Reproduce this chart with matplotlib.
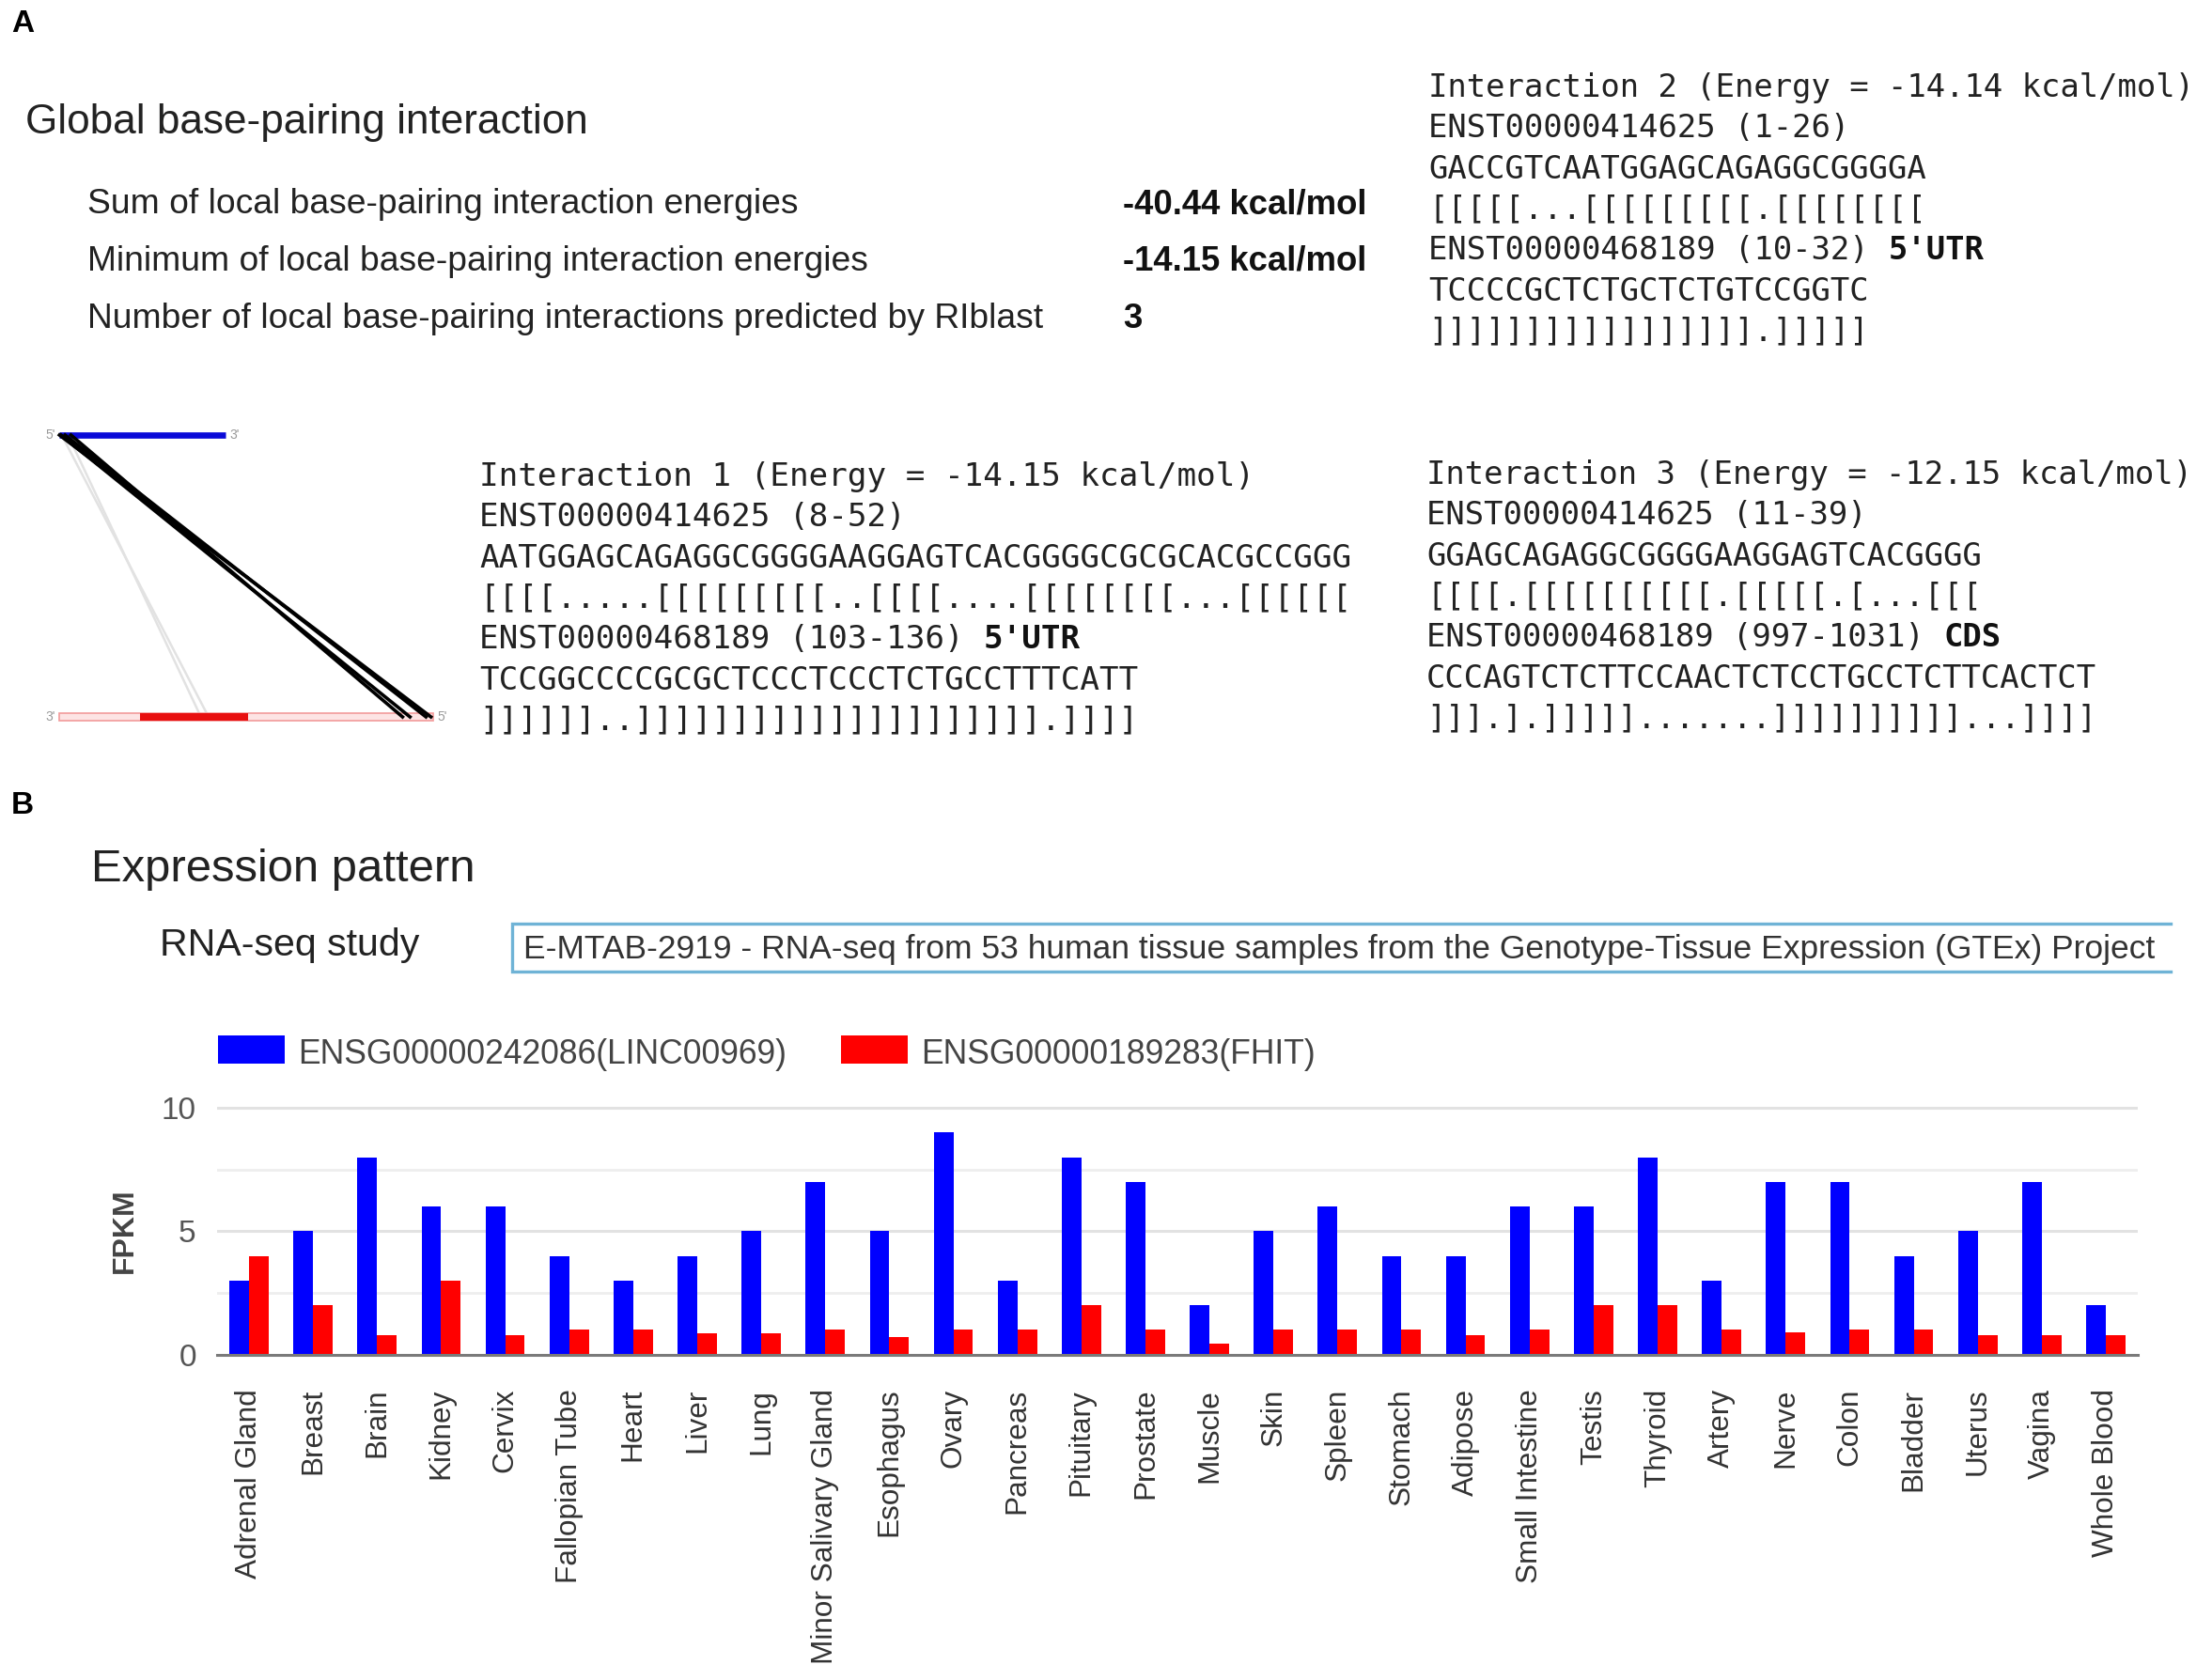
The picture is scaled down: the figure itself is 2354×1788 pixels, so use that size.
#!/usr/bin/env python3
"""Recreate the RNA-RNA interaction / expression pattern figure."""

import matplotlib
matplotlib.use("Agg")
import matplotlib.pyplot as plt
from matplotlib.patches import Rectangle

W, H, DPI = 2354, 1788, 100
SANS = "Liberation Sans"
MONO = "DejaVu Sans Mono"
MONO_ADVANCE = 1233 / 2048  # glyph advance of DejaVu Sans Mono, in em

# ---- panel A data ----
summary_labels = [
    "Sum of local base-pairing interaction energies",
    "Minimum of local base-pairing interaction energies",
    "Number of local base-pairing interactions predicted by RIblast",
]
summary_values = ["-40.44 kcal/mol", "-14.15 kcal/mol", "3"]

int_names = ["Interaction 1", "Interaction 2", "Interaction 3"]
int_energy = [-14.15, -14.14, -12.15]
query_id = "ENST00000414625"
target_id = "ENST00000468189"
query_range = [(8, 52), (1, 26), (11, 39)]
target_range = [(103, 136), (10, 32), (997, 1031)]
target_region = ["5'UTR", "5'UTR", "CDS"]
query_seq = [
    "AATGGAGCAGAGGCGGGGAAGGAGTCACGGGGCGCGCACGCCGGG",
    "GACCGTCAATGGAGCAGAGGCGGGGA",
    "GGAGCAGAGGCGGGGAAGGAGTCACGGGG",
]
query_struct = [
    "[[[[.....[[[[[[[[[..[[[[....[[[[[[[[...[[[[[[",
    "[[[[[...[[[[[[[[[.[[[[[[[[",
    "[[[[.[[[[[[[[[[.[[[[[.[...[[[",
]
target_seq = [
    "TCCGGCCCCGCGCTCCCTCCCTCTGCCTTTCATT",
    "TCCCCGCTCTGCTCTGTCCGGTC",
    "CCCAGTCTCTTCCAACTCTCCTGCCTCTTCACTCT",
]
target_struct = [
    "]]]]]]..]]]]]]]]]]]]]]]]]]]]].]]]]",
    "]]]]]]]]]]]]]]]]].]]]]]",
    "]]].].]]]]].......]]]]]]]]]]...]]]]",
]

# transcript sketch (nucleotides)
query_len = 740
target_len = 1660
target_cds = (820, 1300)

# ---- panel B data ----
tissues = ["Adrenal Gland", "Breast", "Brain", "Kidney", "Cervix", "Fallopian Tube",
           "Heart", "Liver", "Lung", "Minor Salivary Gland", "Esophagus", "Ovary",
           "Pancreas", "Pituitary", "Prostate", "Muscle", "Skin", "Spleen", "Stomach",
           "Adipose", "Small Intestine", "Testis", "Thyroid", "Artery", "Nerve", "Colon",
           "Bladder", "Uterus", "Vagina", "Whole Blood"]
linc00969 = [3, 5, 8, 6, 6, 4, 3, 4, 5, 7, 5, 9, 3, 8, 7, 2, 5, 6, 4, 4, 6, 6, 8, 3, 7, 7, 4, 5, 7, 2]
fhit = [4, 2, 0.8, 3, 0.8, 1, 1, 0.85, 0.85, 1, 0.7, 1, 1, 2, 1, 0.45, 1, 1, 1, 0.8,
        1, 2, 2, 1, 0.9, 1, 1, 0.8, 0.8, 0.8]
series_names = ["ENSG00000242086(LINC00969)", "ENSG00000189283(FHIT)"]
study_text = ("E-MTAB-2919 - RNA-seq from 53 human tissue samples from the "
              "Genotype-Tissue Expression (GTEx) Project")

BLUE = "#0000ff"
RED = "#ff0000"

fig = plt.figure(figsize=(W / DPI, H / DPI), dpi=DPI)
fig.patch.set_facecolor("white")

# overlay in pixel coordinates for the page text
ov = fig.add_axes([0, 0, 1, 1])
ov.set_xlim(0, W)
ov.set_ylim(H, 0)
ov.axis("off")


def px_axes(left, top, right, bottom):
    return fig.add_axes([left / W, 1 - bottom / H, (right - left) / W, (bottom - top) / H])


def mono_block(x, y0, lines, bold_tail, size, step=43.3):
    char_w = MONO_ADVANCE * size * DPI / 72
    for i, line in enumerate(lines):
        y = y0 + i * step
        ov.text(x, y, line, family=MONO, fontsize=size, color="#222222", va="baseline", ha="left")
        if bold_tail[i]:
            ov.text(x + (len(line) + 1) * char_w, y, bold_tail[i], family=MONO, fontsize=size,
                    fontweight="bold", color="#111111", va="baseline", ha="left")


# ---- panel A ----
ov.text(12, 25, "A", family=SANS, fontsize=24, fontweight="bold", va="center", ha="left")
ov.text(27, 142, "Global base-pairing interaction", family=SANS, fontsize=31.8,
        color="#222222", va="baseline")
for i, (lab, val) in enumerate(zip(summary_labels, summary_values)):
    y = 227 + i * 61
    ov.text(93, y, lab, family=SANS, fontsize=26.8, color="#222222", va="baseline")
    ov.text(1195, y, val, family=SANS, fontsize=26.3, fontweight="bold", color="#111111", va="baseline")

block_pos = [(510, 517), (1520, 103), (1518, 515)]
block_size = [24.7, 24.4, 24.4]
for k in range(3):
    lines = [
        f"{int_names[k]} (Energy = {int_energy[k]:.2f} kcal/mol)",
        f"{query_id} ({query_range[k][0]}-{query_range[k][1]})",
        query_seq[k],
        query_struct[k],
        f"{target_id} ({target_range[k][0]}-{target_range[k][1]})",
        target_seq[k],
        target_struct[k],
    ]
    tails = ["", "", "", "", target_region[k], "", ""]
    mono_block(block_pos[k][0], block_pos[k][1], lines, tails, block_size[k])

# interaction sketch
dg = px_axes(63, 463, 461, 763)
dg.set_xlim(0, target_len)
dg.set_ylim(0, 1)
dg.axis("off")
dg.plot([0, query_len], [1, 1], color="#0a0ad8", lw=4.8, solid_capstyle="butt", clip_on=False, zorder=3)
dg.add_patch(Rectangle((0, -0.012), target_len, 0.024, facecolor="#fde4e4", edgecolor="#f29a9a",
                       lw=1.2, clip_on=False, zorder=2))
dg.add_patch(Rectangle((target_len - target_cds[1], -0.012), target_cds[1] - target_cds[0], 0.024,
                       facecolor="#e81010", edgecolor="none", clip_on=False, zorder=2))
for k in range(3):
    col = "#000000" if int_energy[k] < -13 else "#e2e2e2"
    lw = 2.6 if int_energy[k] < -13 else 1.8
    for qp, tp in zip(query_range[k], target_range[k]):
        dg.plot([qp, target_len - tp], [1, 0], color=col, lw=lw, clip_on=False,
                zorder=4 if col == "#000000" else 1)
end_kw = dict(family=SANS, fontsize=10, color="#999999", va="center")
dg.annotate("5'", (0, 1), xytext=(-3, 0), textcoords="offset points", ha="right", **end_kw)
dg.annotate("3'", (query_len, 1), xytext=(3, 0), textcoords="offset points", ha="left", **end_kw)
dg.annotate("3'", (0, 0), xytext=(-3, 0), textcoords="offset points", ha="right", **end_kw)
dg.annotate("5'", (target_len, 0), xytext=(3, 0), textcoords="offset points", ha="left", **end_kw)

# ---- panel B ----
ov.text(12, 858, "B", family=SANS, fontsize=24, fontweight="bold", va="center", ha="left")
ov.text(97, 938, "Expression pattern", family=SANS, fontsize=35.3, color="#222222", va="baseline")
ov.text(170, 1017, "RNA-seq study", family=SANS, fontsize=29.6, color="#222222", va="baseline")
box_col = "#6fb3d6"
ov.plot([2310, 545, 545, 2310], [983, 983, 1034, 1034], color=box_col, lw=2.4, solid_joinstyle="miter")
ov.text(557, 1020, study_text, family=SANS, fontsize=25.5, color="#333333", va="baseline")

# legend swatches
ov.add_patch(Rectangle((232, 1102), 71, 30, facecolor=BLUE, edgecolor="none"))
ov.text(317, 1132, series_names[0], family=SANS, fontsize=25.6, color="#444444", va="baseline")
ov.add_patch(Rectangle((895, 1102), 71, 30, facecolor=RED, edgecolor="none"))
ov.text(980, 1132, series_names[1], family=SANS, fontsize=25.6, color="#444444", va="baseline")

# bar chart
ymax = 10.1
ax = px_axes(231, 1441.7 - 26.27 * ymax, 2275, 1441.7)
x = list(range(len(tissues)))
bw = 0.306
ax.bar([i - bw / 2 for i in x], linc00969, width=bw, color=BLUE, zorder=2)
ax.bar([i + bw / 2 for i in x], fhit, width=bw, color=RED, zorder=2)
ax.set_xlim(-0.5, len(tissues) - 0.5)
ax.set_ylim(0, ymax)
ax.set_yticks([0, 5, 10])
ax.set_yticks([2.5, 7.5], minor=True)
ax.grid(axis="y", which="major", color="#e2e2e2", lw=2.2, zorder=0)
ax.grid(axis="y", which="minor", color="#eeeeee", lw=2.0, zorder=0)
ax.set_axisbelow(True)
ax.axhline(0, color="#7a7a7a", lw=2.2, zorder=3, clip_on=False)
for s in ax.spines.values():
    s.set_visible(False)
ax.set_xticks(x)
ax.set_xticklabels(tissues, rotation=90, ha="center", va="top", family=SANS, fontsize=22.7, color="#333333")
for lab in ax.get_yticklabels():
    lab.set_family(SANS)
ax.tick_params(axis="y", which="both", length=0, pad=16, labelsize=24, labelcolor="#555555")
ax.tick_params(axis="x", length=0, pad=26)
ov.text(133, 1310, "FPKM", family=SANS, fontsize=23, fontweight="bold", color="#444444",
        rotation=90, ha="center", va="center")

fig.savefig("out.png", dpi=DPI, facecolor="white")
print("saved out.png")
